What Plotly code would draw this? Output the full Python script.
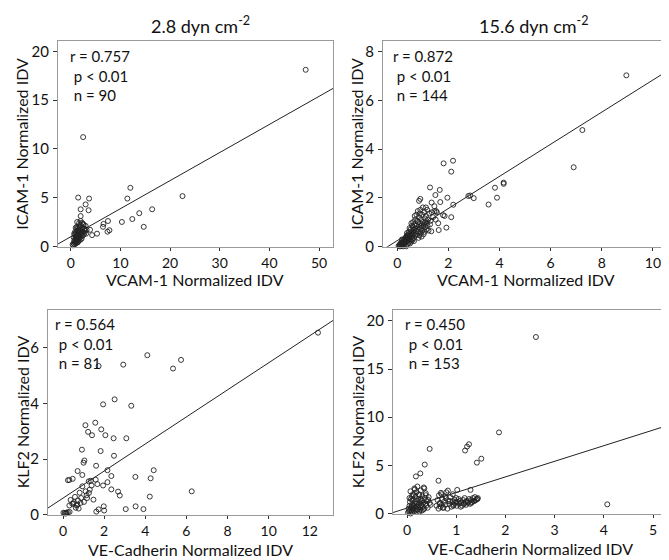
import plotly.graph_objects as go

W, H = 669, 560
FONT = "Lato"

# ---------------- data ----------------
# Panel A: 2.8 dyn/cm2, VCAM-1 vs ICAM-1
a_x = [47.3, 2.5, 22.5, 12.0, 11.4, 16.4, 13.8, 12.4, 14.7, 10.3, 7.5, 6.6, 6.5, 7.4, 7.8, 5.3, 4.3,
       1.5, 3.7, 3.0, 3.6, 2.0, 2.0, 3.9,
       0.5, 0.6, 0.7, 0.8, 0.8, 0.9, 0.9, 1.0, 1.0, 1.0, 1.1, 1.1, 1.2, 1.2, 1.2, 1.3, 1.3, 1.4, 1.4, 1.4,
       1.5, 1.5, 1.5, 1.6, 1.6, 1.7, 1.7, 1.8, 1.8, 1.9, 1.9, 2.0, 2.0, 2.1, 2.1, 2.2, 2.2, 2.3, 2.4, 2.5,
       2.5, 2.6, 2.7, 2.8, 2.9, 3.0, 3.1, 3.2, 0.4, 0.6, 0.7, 0.9, 1.0, 1.2, 1.3, 1.5, 1.7, 1.8, 2.0, 2.3,
       2.6, 2.8, 1.1, 1.6, 0.8, 1.4]
a_y = [18.1, 11.2, 5.15, 6.0, 4.9, 3.8, 3.4, 2.8, 2.0, 2.5, 2.6, 2.3, 2.0, 1.5, 1.65, 1.3, 1.15,
       5.0, 4.9, 4.3, 3.7, 3.8, 3.1, 1.7,
       0.1, 0.3, 0.5, 0.2, 0.6, 0.4, 0.8, 0.3, 0.7, 1.0, 0.5, 0.9, 0.6, 1.1, 1.5, 0.4, 0.9, 0.7, 1.2, 1.8,
       0.5, 1.0, 2.0, 0.8, 1.4, 0.6, 1.1, 0.9, 1.6, 1.3, 2.2, 0.7, 1.2, 1.0, 1.7, 0.8, 1.4, 2.4, 1.1, 1.5,
       2.3, 1.2, 1.8, 1.4, 1.6, 2.1, 1.3, 1.7, 0.2, 0.9, 1.3, 1.5, 1.9, 2.0, 2.5, 1.6, 2.4, 2.0, 2.6, 1.9,
       2.2, 1.8, 1.3, 1.7, 1.2, 0.4]
a_fit = (0.98, 0.288)  # intercept, slope

# Panel B: 15.6 dyn/cm2, VCAM-1 vs ICAM-1
b_x = [8.96, 7.24, 6.9, 4.16, 4.16, 3.82, 3.9, 3.57, 2.99, 2.78, 2.85, 1.81, 2.18, 2.11, 2.19, 2.11, 1.92,
       1.62, 1.33, 1.28, 1.66, 1.49, 1.96, 1.68, 1.34, 0.9, 0.85, 1.79, 1.85, 1.45, 1.52, 1.12,
       0.05, 0.08, 0.1, 0.1, 0.12, 0.13, 0.15, 0.15, 0.17, 0.18, 0.2, 0.2, 0.22, 0.23, 0.25, 0.25, 0.27,
       0.28, 0.3, 0.3, 0.32, 0.33, 0.35, 0.35, 0.37, 0.38, 0.4, 0.4, 0.42, 0.43, 0.45, 0.45, 0.47, 0.48,
       0.5, 0.5, 0.52, 0.53, 0.55, 0.55, 0.57, 0.58, 0.6, 0.6, 0.62, 0.63, 0.65, 0.65, 0.67, 0.68, 0.7,
       0.7, 0.72, 0.73, 0.75, 0.75, 0.77, 0.78, 0.8, 0.8, 0.82, 0.83, 0.85, 0.85, 0.87, 0.88, 0.9, 0.9,
       0.92, 0.93, 0.95, 0.95, 0.97, 0.98, 1.0, 1.0, 1.02, 1.03, 1.05, 1.05, 1.07, 1.08, 1.1, 1.1, 1.12,
       1.13, 1.15, 1.17, 1.18, 1.2, 1.22, 1.25, 1.28, 1.3, 1.35, 1.4, 1.45, 1.5, 1.55, 1.6, 0.35, 0.4,
       0.45, 0.5, 0.55, 0.6, 0.65, 0.28, 0.22, 0.18, 0.38, 0.48, 0.58, 0.68, 0.78, 0.88]
b_y = [7.03, 4.78, 3.25, 2.57, 2.62, 2.41, 2.0, 1.72, 1.98, 2.07, 2.09, 3.41, 3.52, 3.07, 1.71, 1.2, 0.77,
       0.67, 0.62, 2.42, 2.32, 2.11, 2.0, 1.82, 1.8, 1.95, 1.87, 1.28, 1.25, 1.65, 1.45, 1.6,
       0.02, 0.05, 0.0, 0.08, 0.04, 0.12, 0.06, 0.15, 0.1, 0.02, 0.12, 0.2, 0.08, 0.16, 0.25, 0.1, 0.18,
       0.3, 0.14, 0.22, 0.35, 0.26, 0.18, 0.4, 0.3, 0.45, 0.22, 0.35, 0.5, 0.28, 0.4, 0.6, 0.33, 0.5,
       0.25, 0.45, 0.7, 0.38, 0.55, 0.95, 0.3, 0.62, 0.45, 0.8, 1.0, 0.5, 0.68, 0.35, 0.9, 0.55, 0.75,
       1.1, 0.45, 0.62, 0.85, 1.3, 0.5, 0.72, 1.0, 1.45, 0.6, 0.35, 0.8, 1.2, 0.45, 0.95, 0.7, 1.5,
       0.55, 1.1, 0.85, 0.4, 1.3, 0.65, 1.0, 1.6, 0.75, 0.5, 0.9, 1.4, 0.6, 1.15, 0.8, 1.0, 1.25,
       0.7, 0.95, 1.5, 0.85, 1.1, 0.65, 1.35, 0.9, 1.05, 1.4, 1.2, 1.45, 1.1, 1.4, 0.95, 0.0, 0.1,
       0.15, 0.12, 0.2, 0.28, 0.22, 0.05, 0.0, 0.28, 0.55, 0.75, 0.85, 1.25, 1.05, 1.35]
b_fit = (0.238, 0.660)

# Panel C: 2.8 dyn/cm2, VE-Cadherin vs KLF2
c_x = [12.4, 4.1, 5.74, 5.35, 2.93, 1.73, 2.51, 1.95, 3.32, 1.57, 1.09, 1.22, 1.41, 1.86, 2.06, 2.46, 3.08,
       1.83, 0.92, 2.48, 1.04, 1.0, 1.61, 0.71, 0.94, 2.16, 4.41, 4.26, 3.52, 2.35, 1.59, 1.35, 0.47,
       0.24, 0.31, 2.16, 1.39, 1.95, 1.67, 0.94, 2.35, 2.68, 2.76, 6.26, 4.22, 1.26, 1.1, 0.81, 0.58,
       1.48, 1.17, 1.02, 0.73, 0.37, 0.45, 0.31, 0.66, 0.76, 0.53, 1.98, 2.0, 1.73, 1.62, 3.05, 3.53,
       3.91, 0.02, 0.08, 0.18, 0.24, 0.11, 0.32, 0.88, 1.3, 0.5, 1.15, 0.62, 0.85, 1.25, 0.15, 0.7]
c_y = [6.55, 5.74, 5.57, 5.26, 5.4, 5.35, 4.15, 3.97, 3.92, 3.31, 3.22, 2.98, 2.86, 3.07, 2.86, 2.75, 2.75,
       2.29, 2.34, 2.12, 1.95, 1.87, 1.76, 1.57, 1.43, 1.6, 1.6, 1.31, 1.36, 1.39, 1.26, 1.22, 1.29,
       1.24, 1.25, 1.17, 1.05, 1.05, 1.1, 1.02, 0.91, 0.83, 0.69, 0.84, 0.65, 0.78, 0.84, 0.79, 0.64,
       0.54, 0.6, 0.46, 0.51, 0.53, 0.39, 0.33, 0.33, 0.22, 0.45, 0.3, 0.15, 0.19, 0.11, 0.2, 0.3,
       0.2, 0.07, 0.06, 0.07, 0.09, 0.04, 0.1, 0.6, 0.9, 0.4, 0.7, 0.25, 0.42, 1.2, 0.05, 0.36]
c_fit = (0.596, 0.487)

# Panel D: 15.6 dyn/cm2, VE-Cadherin vs KLF2
d_x = [2.62, 1.87, 0.46, 1.26, 1.22, 1.18, 1.51, 1.42, 0.36, 0.27, 0.18, 0.64, 4.07, 1.02, 0.83, 1.29, 0.69,
       0.02, 0.03, 0.04, 0.05, 0.05, 0.06, 0.07, 0.08, 0.08, 0.09, 0.1, 0.1, 0.11, 0.12, 0.12, 0.13,
       0.14, 0.15, 0.15, 0.16, 0.17, 0.18, 0.18, 0.19, 0.2, 0.2, 0.21, 0.22, 0.23, 0.24, 0.25, 0.25,
       0.26, 0.27, 0.28, 0.29, 0.3, 0.3, 0.31, 0.32, 0.33, 0.34, 0.35, 0.36, 0.37, 0.38, 0.39, 0.4,
       0.42, 0.44, 0.46, 0.48, 0.05, 0.07, 0.1, 0.13, 0.16, 0.2, 0.24, 0.28, 0.33, 0.38, 0.43, 0.09,
       0.14, 0.19, 0.26, 0.35,
       0.6, 0.62, 0.64, 0.65, 0.67, 0.68, 0.7, 0.71, 0.72, 0.74, 0.75, 0.77, 0.78, 0.8, 0.82, 0.84,
       0.86, 0.88, 0.9, 0.92, 0.93, 0.95, 0.97, 0.98, 1.0, 1.01, 1.03, 1.05, 1.06, 1.08, 1.1, 1.12,
       1.14, 1.15, 1.17, 1.19, 1.2, 1.22, 1.24, 1.26, 1.28, 1.3, 1.32, 1.34, 1.36, 1.38, 1.4, 1.42,
       1.44, 0.66, 0.73, 0.79, 0.87, 0.94, 1.0, 1.09, 1.16, 1.23, 1.31, 1.37, 1.43]
d_y = [18.33, 8.42, 6.71, 7.19, 6.95, 6.54, 5.69, 5.28, 5.08, 4.16, 3.85, 3.4, 0.95, 2.45, 2.38, 2.45, 2.15,
       0.1, 0.5, 0.2, 0.8, 0.3, 1.2, 0.0, 0.6, 1.5, 0.3, 0.9, 0.1, 1.4, 0.5, 2.0, 0.8,
       0.2, 1.1, 2.6, 0.6, 1.7, 0.3, 1.3, 2.2, 0.7, 1.0, 2.8, 0.4, 1.5, 0.9, 0.2, 1.9,
       1.2, 0.6, 2.4, 0.9, 0.3, 1.4, 1.8, 0.7, 1.1, 2.7, 0.5, 1.6, 1.0, 2.1, 0.8, 1.3,
       0.6, 1.7, 1.1, 0.9, 1.6, 2.3, 1.8, 0.4, 2.5, 0.4, 2.0, 1.5, 0.4, 1.9, 1.4, 0.7,
       1.9, 1.0, 0.4, 2.6,
       0.8, 1.4, 0.5, 1.9, 1.1, 0.7, 2.0, 0.9, 1.5, 0.6, 1.2, 1.8, 0.9, 2.2, 0.5, 1.3,
       1.0, 1.7, 0.7, 1.2, 2.0, 0.9, 1.4, 1.1, 1.6, 0.8, 1.2, 1.5, 1.0, 1.3, 1.1, 0.8,
       1.4, 1.0, 1.6, 1.2, 0.9, 1.3, 1.1, 1.5, 1.0, 1.4, 1.2, 1.6, 1.3, 1.7, 1.4, 1.5,
       1.6, 1.0, 0.6, 1.6, 1.3, 0.8, 1.2, 0.7, 1.0, 1.2, 1.1, 1.3, 1.5]
d_fit = (0.56, 1.62)

panels = [
    dict(x=a_x, y=a_y, fit=a_fit, xr=[-2.56, 52.8], yr=[-0.05, 21.1], xt=[0, 10, 20, 30, 40, 50],
         yt=[0, 5, 10, 15, 20], box=(50, 325, 33, 242.3), stats=["r = 0.757", " p < 0.01", " n = 90"],
         sx=62, sy=49, xtitle="VCAM-1 Normalized IDV", ytitle="ICAM-1 Normalized IDV", tt=33),
    dict(x=b_x, y=b_y, fit=b_fit, xr=[-0.56, 10.59], yr=[-0.02, 8.46], xt=[0, 2, 4, 6, 8, 10],
         yt=[0, 2, 4, 6, 8], box=(375, 660, 33, 242.3), stats=["r = 0.872", " p < 0.01", " n = 144"],
         sx=385, sy=49, xtitle="VCAM-1 Normalized IDV", ytitle="ICAM-1 Normalized IDV", tt=33),
    dict(x=c_x, y=c_y, fit=c_fit, xr=[-0.73, 13.13], yr=[-0.01, 7.38], xt=[0, 2, 4, 6, 8, 10, 12],
         yt=[0, 2, 4, 6], box=(40, 325, 306, 514.3), stats=["r = 0.564", " p < 0.01", " n = 81"],
         sx=47, sy=320, xtitle="VE-Cadherin Normalized IDV", ytitle="KLF2 Normalized IDV", tt=35),
    dict(x=d_x, y=d_y, fit=d_fit, xr=[-0.285, 5.29], yr=[-0.05, 21.1], xt=[0, 1, 2, 3, 4, 5],
         yt=[0, 5, 10, 15, 20], box=(385, 659.3, 306.7, 513.3), stats=["r = 0.450", " p < 0.01", " n = 153"],
         sx=397, sy=320, xtitle="VE-Cadherin Normalized IDV", ytitle="KLF2 Normalized IDV", tt=35),
]

titles = [("2.8 dyn cm<sup>-2</sup>", 192, 17), ("15.6 dyn cm<sup>-2</sup>", 526, 17)]


def px(x):
    return x / W


def py(y):
    return 1 - y / H


fig = go.Figure()
annotations = []
for i, p in enumerate(panels, start=1):
    xa = "x" if i == 1 else f"x{i}"
    ya = "y" if i == 1 else f"y{i}"
    l, r, t, b = p["box"]
    fig.add_trace(go.Scatter(
        x=p["x"], y=p["y"], mode="markers", xaxis=xa, yaxis=ya, showlegend=False,
        marker=dict(symbol="circle-open", size=5, color="#222", line=dict(width=0.9)),
        cliponaxis=False))
    b0, b1 = p["fit"]
    fx = [p["xr"][0], p["xr"][1]]
    fy = [b0 + b1 * v for v in fx]
    fig.add_trace(go.Scatter(x=fx, y=fy, mode="lines", xaxis=xa, yaxis=ya, showlegend=False,
                             line=dict(color="#222", width=1)))
    axx = dict(domain=[px(l), px(r)], range=p["xr"], tickvals=p["xt"], anchor=ya,
               showline=True, mirror=True, linecolor="#9a9a9a", linewidth=1,
               ticks="outside", ticklen=3, tickcolor="#333", showgrid=False, zeroline=False,
               tickfont=dict(family=FONT, size=14, color="#111"), ticklabelstandoff=0)
    axy = dict(domain=[py(b), py(t)], range=p["yr"], tickvals=p["yt"], anchor=xa,
               showline=True, mirror=True, linecolor="#9a9a9a", linewidth=1,
               ticks="outside", ticklen=4, tickcolor="#333", showgrid=False, zeroline=False,
               tickfont=dict(family=FONT, size=15, color="#111"), ticklabelstandoff=1)
    fig.layout["xaxis" if i == 1 else f"xaxis{i}"] = axx
    fig.layout["yaxis" if i == 1 else f"yaxis{i}"] = axy
    # axis titles
    annotations.append(dict(text=p["xtitle"], x=px((l + r) / 2), y=py(b + p["tt"]), xref="paper", yref="paper",
                            showarrow=False, xanchor="center", yanchor="middle",
                            font=dict(family=FONT, size=16, color="#111")))
    ytx = 14 if l < 200 else 349
    annotations.append(dict(text=p["ytitle"], x=px(ytx), y=py((t + b) / 2), xref="paper", yref="paper",
                            showarrow=False, xanchor="center", yanchor="middle", textangle=-90,
                            font=dict(family=FONT, size=16, color="#111")))
    stats_txt = "<br>".join(s.replace(" ", "\u00a0", 1) if s.startswith(" ") else s for s in p["stats"])
    annotations.append(dict(text=stats_txt, align="left", x=px(p["sx"] - 1), y=py(p["sy"] - 10),
                            xref="paper", yref="paper", showarrow=False, xanchor="left", yanchor="top",
                            borderpad=0, font=dict(family=FONT, size=15, color="#111")))

for txt, cx, cy in titles:
    annotations.append(dict(text=txt, x=px(cx), y=py(cy), xref="paper", yref="paper", showarrow=False,
                            xanchor="center", yanchor="middle", font=dict(family=FONT, size=18, color="#111")))

fig.update_layout(width=W, height=H, margin=dict(l=0, r=0, t=0, b=0), paper_bgcolor="white",
                  plot_bgcolor="white", annotations=annotations)
fig.write_html("out.html")
